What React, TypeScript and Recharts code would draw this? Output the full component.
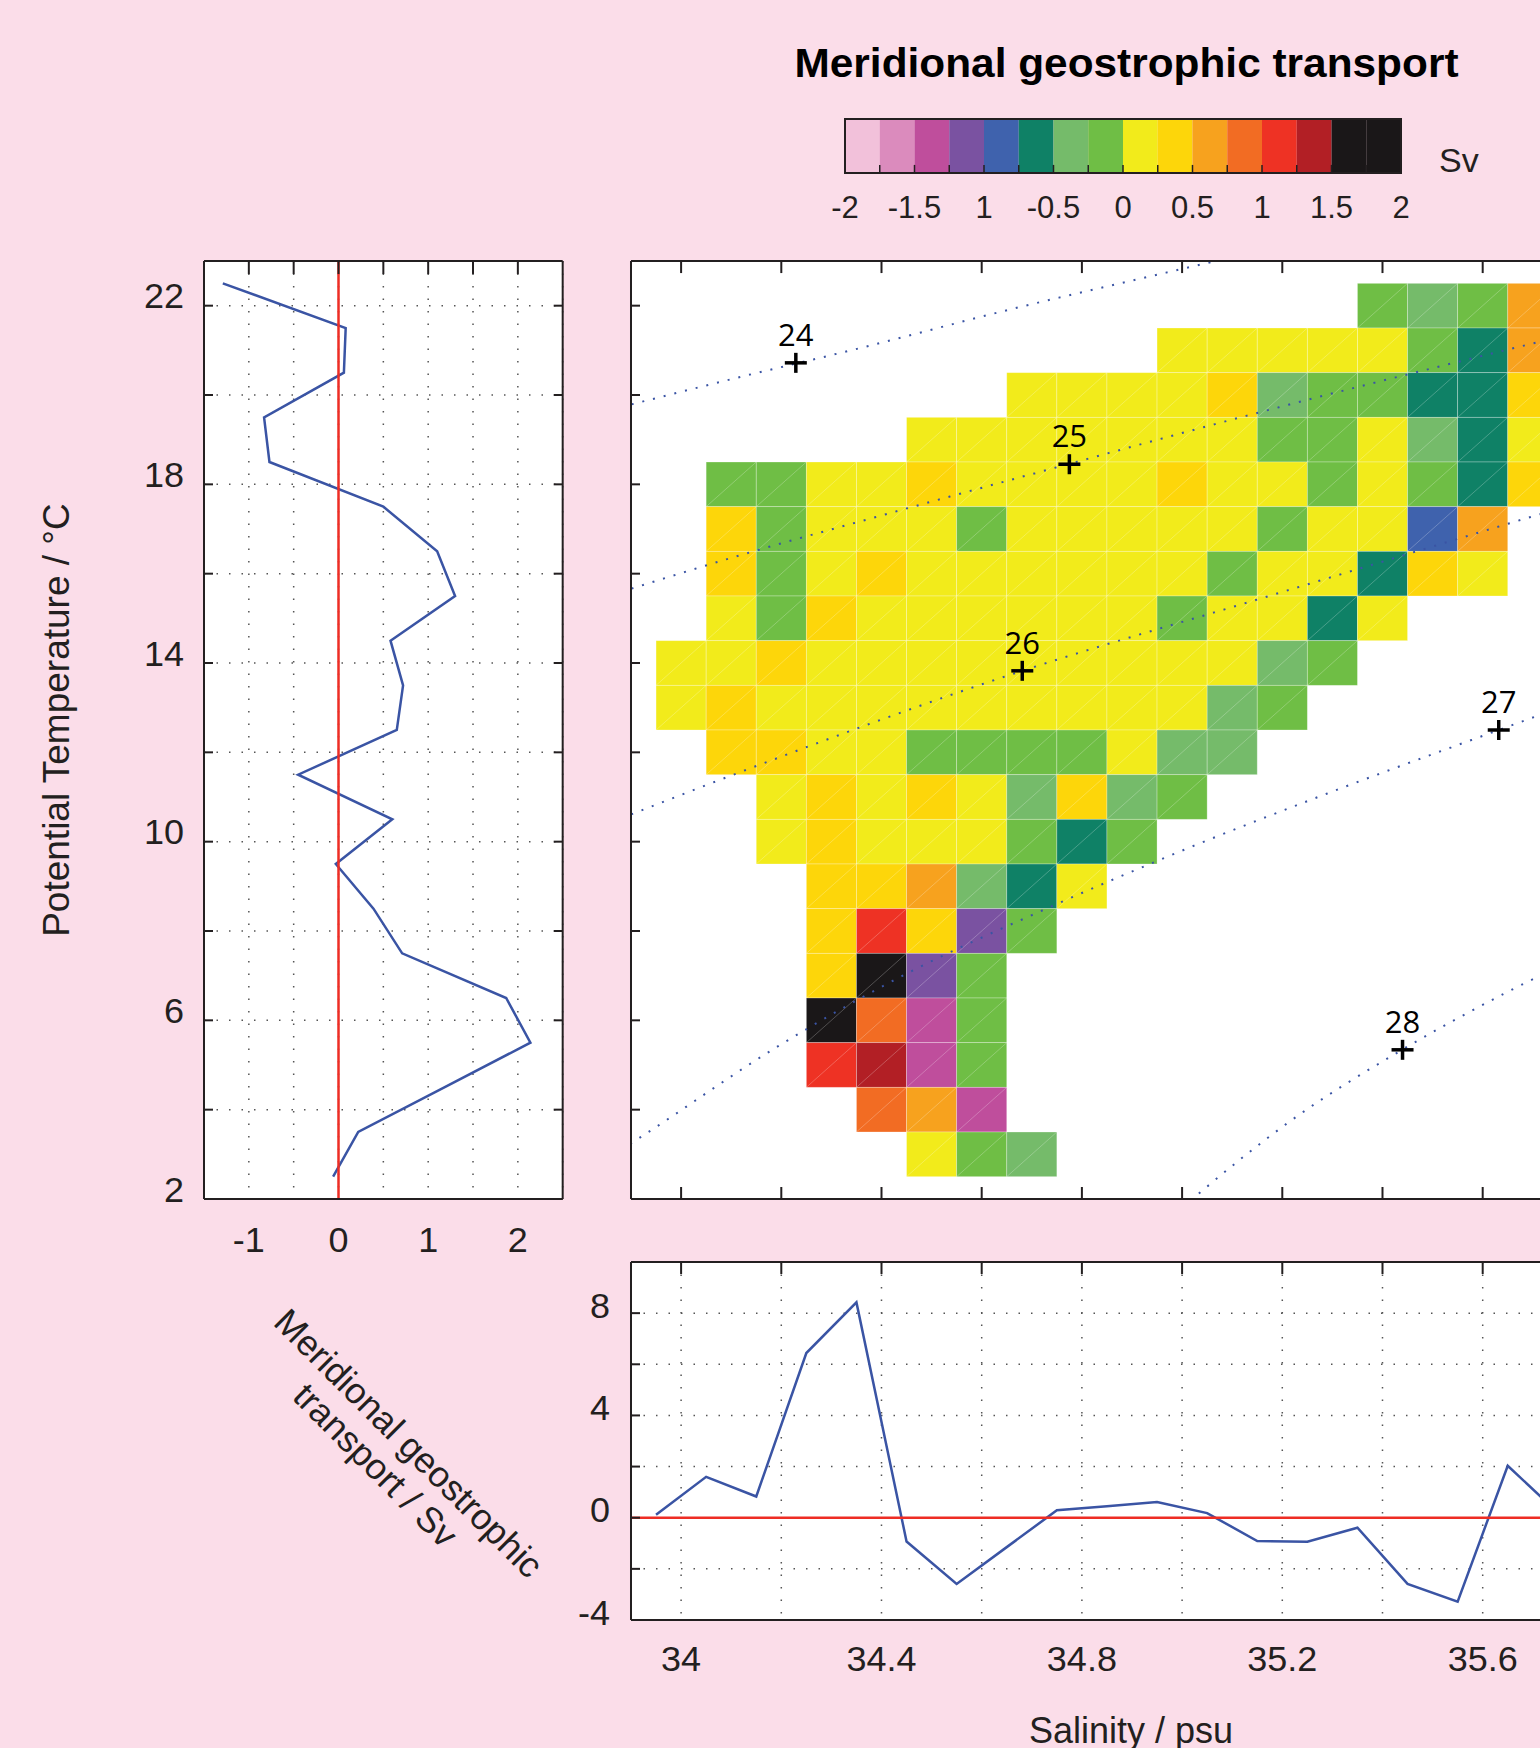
import React from "react";
import {
  ComposedChart,
  Line,
  Scatter,
  XAxis,
  YAxis,
  CartesianGrid,
  ReferenceArea,
  ReferenceLine,
} from "recharts";

const PINK = "#FBDDE9";
const INK = "#231F20";
const BLUE = "#3A54A4";
const RED = "#EE2D24";

// heat map bins (cell centres)
const salinityCenters = [
  34.0, 34.1, 34.2, 34.3, 34.4, 34.5, 34.6, 34.7, 34.8, 34.9, 35.0, 35.1, 35.2,
  35.3, 35.4, 35.5, 35.6, 35.7,
];
const temperatureCenters = [22, 21, 20, 19, 18, 17, 16, 15, 14, 13, 12, 11, 10, 9, 8, 7, 6, 5, 4, 3];

const _ = null;
// transport per cell in Sv, one row per temperature bin
const transportRows: (number | null)[][] = [
  [_, _, _, _, _, _, _, _, _, _, _, _, _, _, -0.1, -0.35, -0.1, 0.6],
  [_, _, _, _, _, _, _, _, _, _, 0.1, 0.1, 0.1, 0.1, 0.1, -0.1, -0.6, 0.6],
  [_, _, _, _, _, _, _, 0.1, 0.1, 0.1, 0.1, 0.4, -0.35, -0.1, -0.1, -0.6, -0.6, 0.4],
  [_, _, _, _, _, 0.1, 0.1, 0.1, 0.1, 0.1, 0.1, 0.1, -0.1, -0.1, 0.1, -0.35, -0.6, 0.1],
  [_, -0.1, -0.1, 0.1, 0.1, 0.4, 0.1, 0.1, 0.1, 0.1, 0.4, 0.1, 0.1, -0.1, 0.1, -0.1, -0.6, 0.4],
  [_, 0.4, -0.1, 0.1, 0.1, 0.1, -0.1, 0.1, 0.1, 0.1, 0.1, 0.1, -0.1, 0.1, 0.1, -0.85, 0.6, _],
  [_, 0.4, -0.1, 0.1, 0.4, 0.1, 0.1, 0.1, 0.1, 0.1, 0.1, -0.1, 0.1, 0.1, -0.6, 0.4, 0.1, _],
  [_, 0.1, -0.1, 0.4, 0.1, 0.1, 0.1, 0.1, 0.1, 0.1, -0.1, 0.1, 0.1, -0.6, 0.1, _, _, _],
  [0.1, 0.1, 0.4, 0.1, 0.1, 0.1, 0.1, 0.1, 0.1, 0.1, 0.1, 0.1, -0.35, -0.1, _, _, _, _],
  [0.1, 0.4, 0.1, 0.1, 0.1, 0.1, 0.1, 0.1, 0.1, 0.1, 0.1, -0.35, -0.1, _, _, _, _, _],
  [_, 0.4, 0.4, 0.1, 0.1, -0.1, -0.1, -0.1, -0.1, 0.1, -0.35, -0.35, _, _, _, _, _, _],
  [_, _, 0.1, 0.4, 0.1, 0.4, 0.1, -0.35, 0.4, -0.35, -0.1, _, _, _, _, _, _, _],
  [_, _, 0.1, 0.4, 0.1, 0.1, 0.1, -0.1, -0.6, -0.1, _, _, _, _, _, _, _, _],
  [_, _, _, 0.4, 0.4, 0.6, -0.35, -0.6, 0.1, _, _, _, _, _, _, _, _, _],
  [_, _, _, 0.4, 1.1, 0.4, -1.1, -0.1, _, _, _, _, _, _, _, _, _, _],
  [_, _, _, 0.4, 1.7, -1.1, -0.1, _, _, _, _, _, _, _, _, _, _, _],
  [_, _, _, 1.7, 0.85, -1.4, -0.1, _, _, _, _, _, _, _, _, _, _, _],
  [_, _, _, 1.1, 1.4, -1.4, -0.1, _, _, _, _, _, _, _, _, _, _, _],
  [_, _, _, _, 0.85, 0.6, -1.4, _, _, _, _, _, _, _, _, _, _, _],
  [_, _, _, _, _, 0.1, -0.1, -0.35, _, _, _, _, _, _, _, _, _, _],
];

// colour scale
const colorbarEdges = [-2, -1.75, -1.5, -1.25, -1, -0.75, -0.5, -0.25, 0, 0.25, 0.5, 0.75, 1, 1.25, 1.5, 1.75, 2];
const colorbarColors = [
  "#F2C1DA", "#DB8BBD", "#BF4E9C", "#7A52A1", "#3F62AD", "#0F8166", "#75BB6A", "#6FBE45",
  "#F2EB1B", "#FDD60A", "#F7A21E", "#F26C23", "#EE3224", "#B21F25", "#1A1718", "#1A1718",
];
const colorbarTickValues = [-2, -1.5, -1, -0.5, 0, 0.5, 1, 1.5, 2];
const colorbarTickLabels = ["-2", "-1.5", "1", "-0.5", "0", "0.5", "1", "1.5", "2"];

// left panel: transport integrated over salinity
const profileTemperature = [22.5, 21.5, 20.5, 19.5, 18.5, 17.5, 16.5, 15.5, 14.5, 13.5, 12.5, 11.5, 10.5, 9.5, 8.5, 7.5, 6.5, 5.5, 4.5, 3.5, 2.5];
const profileTransport = [-1.29, 0.08, 0.06, -0.83, -0.77, 0.5, 1.1, 1.3, 0.58, 0.72, 0.65, -0.45, 0.6, -0.03, 0.39, 0.71, 1.87, 2.14, 1.18, 0.22, -0.06];

// bottom panel: transport integrated over temperature
const sectionSalinity = [33.95, 34.05, 34.15, 34.25, 34.35, 34.45, 34.55, 34.65, 34.75, 34.85, 34.95, 35.05, 35.15, 35.25, 35.35, 35.45, 35.55, 35.65, 35.75];
const sectionTransport = [0.12, 1.6, 0.83, 6.44, 8.42, -0.93, -2.59, -1.15, 0.29, 0.45, 0.61, 0.18, -0.91, -0.94, -0.39, -2.59, -3.28, 2.03, 0.2];

// isopycnals (salinity, temperature)
const sigma24 = [[33.88, 19.73], [34.106, 20.37], [34.357, 21.05], [34.662, 21.93], [34.968, 22.74], [35.2, 23.35]];
const sigma25 = [[33.88, 15.59], [34.09, 16.32], [34.396, 17.29], [34.746, 18.37], [35.147, 19.59], [35.702, 21.16], [36.05, 22.1]];
const sigma26 = [[33.88, 10.52], [34.114, 11.54], [34.681, 13.825], [35.147, 15.41], [35.702, 17.29], [36.05, 18.45]];
const sigma27 = [[33.88, 3.1], [33.92, 3.39], [34.192, 5.41], [34.451, 7.05], [34.723, 8.47], [35.024, 9.91], [35.316, 11.19], [35.632, 12.5], [36.05, 14.2]];
const sigma28 = [[35.0, 1.8], [35.027, 2.06], [35.213, 3.72], [35.439, 5.34], [35.645, 6.61], [36.05, 8.65]];

const isoLabels = ["24", "25", "26", "27", "28"];
const isoMarkSalinity = [34.229, 34.775, 34.681, 35.632, 35.44];
const isoMarkTemperature = [20.72, 18.45, 13.825, 12.5, 5.34];

// ticks
const salinityTicks = [34, 34.2, 34.4, 34.6, 34.8, 35, 35.2, 35.4, 35.6, 35.8, 36];
const salinityTickLabels = ["34", "", "34.4", "", "34.8", "", "35.2", "", "35.6", "", ""];
const temperatureTicks = [2, 4, 6, 8, 10, 12, 14, 16, 18, 20, 22];
const temperatureTickLabels = ["2", "", "6", "", "10", "", "14", "", "18", "", "22"];
const profileTicks = [-1.5, -1, -0.5, 0, 0.5, 1, 1.5, 2, 2.5];
const profileTickLabels = ["", "-1", "", "0", "", "1", "", "2", ""];
const sectionTicks = [-4, -2, 0, 2, 4, 6, 8, 10];
const sectionTickLabels = ["-4", "", "0", "", "4", "", "8", ""];

const colorFor = (v: number) => {
  const i = Math.floor((v + 2) / 0.25);
  return colorbarColors[Math.max(0, Math.min(15, i))];
};

const cells = temperatureCenters.flatMap((T, r) =>
  salinityCenters
    .map((s, c) => ({ s, T, v: transportRows[r][c] }))
    .filter((d) => d.v !== null)
);

const isopycnals = [sigma24, sigma25, sigma26, sigma27, sigma28].map((pts) =>
  pts.map(([s, T]) => ({ s, T }))
);
const isoMarks = isoLabels.map((label, i) => ({
  label,
  s: isoMarkSalinity[i],
  T: isoMarkTemperature[i],
}));
const profileData = profileTemperature.map((T, i) => ({ T, v: profileTransport[i] }));
const sectionData = sectionSalinity.map((s, i) => ({ s, v: sectionTransport[i] }));
const colorbarData = colorbarEdges.map((x) => ({ x, y: 0.5 }));

const axisLineStyle = { stroke: INK, strokeWidth: 2 };
const tickLineStyle = { stroke: INK, strokeWidth: 2 };
const tickText = { fontSize: 36, fill: INK };
const NoLabel = () => <g />;

// inward tick marks hanging from the top frame, length given in y data units
const topTicks = (xs: number[], yTop: number, len: number) =>
  xs.map((x) => (
    <ReferenceLine
      key={`tt-${x}`}
      segment={[{ x, y: yTop }, { x, y: yTop - len }]}
      stroke={INK}
      strokeWidth={2}
      ifOverflow="visible"
    />
  ));

const CellShape = (props: any) => {
  const { x, y, width, height, color } = props;
  return (
    <g>
      <rect x={x} y={y} width={width} height={height} fill={color} stroke="rgba(255,255,255,0.35)" strokeWidth={0.8} />
      <line x1={x} y1={y + height} x2={x + width} y2={y} stroke="rgba(255,255,255,0.3)" strokeWidth={0.8} />
    </g>
  );
};

const IsoMark = (props: any) => {
  const { cx, cy, payload } = props;
  return (
    <g>
      <line x1={cx - 11} x2={cx + 11} y1={cy} y2={cy} stroke="#000" strokeWidth={3.5} />
      <line x1={cx} x2={cx} y1={cy - 10} y2={cy + 10} stroke="#000" strokeWidth={3.5} />
      <text x={cx} y={cy - 17} textAnchor="middle" fontSize={31} fontFamily="'Open Sans', sans-serif" fill="#000">
        {payload.label}
      </text>
    </g>
  );
};

function Colorbar() {
  const left = 844.5, top = 119.3, w = 556, h = 54, m = 10, side = 30, axisH = 60;
  return (
    <div style={{ position: "absolute", left: left - side, top: top - m }}>
      <ComposedChart data={colorbarData} width={w + 2 * side} height={h + m + axisH} margin={{ top: m, right: side, bottom: 0, left: side }}>
        {colorbarColors.map((c, i) => (
          <ReferenceArea key={i} x1={colorbarEdges[i]} x2={colorbarEdges[i + 1]} y1={0} y2={1} fill={c} fillOpacity={1} stroke="none" />
        ))}
        {colorbarEdges.slice(1, -1).map((x) => (
          <ReferenceLine key={`cb-${x}`} segment={[{ x, y: 0 }, { x, y: 0.15 }]} stroke={INK} strokeWidth={1.5} />
        ))}
        <ReferenceArea x1={-2} x2={2} y1={0} y2={1} fill="none" fillOpacity={0} stroke={INK} strokeWidth={2} />
        <Line dataKey="y" stroke="none" dot={false} isAnimationActive={false} />
        <YAxis type="number" dataKey="y" domain={[0, 1]} allowDataOverflow hide />
        <XAxis
          type="number"
          dataKey="x"
          domain={[-2, 2]}
          allowDataOverflow
          ticks={colorbarTickValues}
          interval={0}
          tickFormatter={(v: number, i: number) => colorbarTickLabels[i]}
          height={axisH}
          tickLine={false}
          axisLine={false}
          tickSize={0}
          tickMargin={23}
          tick={{ fontSize: 31, fill: INK }}
        />
      </ComposedChart>
    </div>
  );
}

function ProfilePanel() {
  const left = 203.6, right = 562.3, top = 260.5, bottom = 1198.5;
  const yW = 110, xH = 80, m = 10;
  return (
    <div style={{ position: "absolute", left: left - yW, top: top - m }}>
      <ComposedChart width={yW + (right - left) + m} height={m + (bottom - top) + xH} margin={{ top: m - 1, right: m, bottom: 0, left: 0 }}>
        <CartesianGrid stroke="#555" strokeWidth={1.5} strokeDasharray="1.5 11" fill="#fff" fillOpacity={1} />
        <Line data={profileData} dataKey="T" type="linear" stroke={BLUE} strokeWidth={2.5} dot={false} isAnimationActive={false} />
        <ReferenceLine x={0} stroke={RED} strokeWidth={2.5} />
        {topTicks(profileTicks.slice(1, -1), 23, 0.29)}
        <XAxis type="number" dataKey="v" domain={[-1.5, 2.5]} allowDataOverflow ticks={profileTicks} interval={0}
          tickFormatter={(v: number, i: number) => profileTickLabels[i]} height={xH} tickLine={false} tickSize={0}
          tickMargin={27} axisLine={axisLineStyle} tick={tickText} />
        <XAxis xAxisId="bIn" type="number" domain={[-1.5, 2.5]} allowDataOverflow ticks={profileTicks} interval={0}
          mirror height={1} tick={NoLabel} tickSize={12} axisLine={false} tickLine={tickLineStyle} />
        <XAxis xAxisId="top" orientation="top" type="number" domain={[-1.5, 2.5]} allowDataOverflow ticks={profileTicks} interval={0}
          height={1} tick={NoLabel} tickLine={false} axisLine={axisLineStyle} />
        <YAxis type="number" dataKey="T" domain={[2, 23]} allowDataOverflow ticks={temperatureTicks} interval={0}
          tickFormatter={(v: number, i: number) => temperatureTickLabels[i]} width={yW} tickLine={false} tickSize={0}
          tickMargin={20} axisLine={axisLineStyle} tick={{ ...tickText, dy: -10 }} />
        <YAxis yAxisId="lIn" type="number" domain={[2, 23]} allowDataOverflow ticks={temperatureTicks} interval={0}
          mirror width={1} tick={NoLabel} tickSize={9} axisLine={false} tickLine={tickLineStyle} />
        <YAxis yAxisId="right" orientation="right" type="number" domain={[2, 23]} allowDataOverflow ticks={temperatureTicks} interval={0}
          mirror width={1} tick={NoLabel} tickSize={9} axisLine={axisLineStyle} tickLine={tickLineStyle} />
      </ComposedChart>
    </div>
  );
}

function HeatmapPanel() {
  const left = 630.5, top = 260.5, w = 1052.1, h = 938, m = 10;
  return (
    <div style={{ position: "absolute", left: left - m, top: top - m }}>
      <ComposedChart width={w + 2 * m} height={h + 2 * m} margin={{ top: m - 1, right: m, bottom: m, left: m }}>
        <ReferenceArea x1={33.9} x2={36} y1={2} y2={23} fill="#fff" fillOpacity={1} stroke="none" />
        {cells.map((c) => (
          <ReferenceArea
            key={`${c.s}-${c.T}`}
            x1={c.s - 0.05}
            x2={c.s + 0.05}
            y1={c.T - 0.5}
            y2={c.T + 0.5}
            shape={(p: any) => <CellShape {...p} color={colorFor(c.v as number)} />}
          />
        ))}
        {isopycnals.map((pts, i) => (
          <Line key={i} data={pts} dataKey="T" type="monotone" stroke={BLUE} strokeWidth={2}
            strokeDasharray="2 9" dot={false} isAnimationActive={false} />
        ))}
        <Scatter data={isoMarks} shape={IsoMark} isAnimationActive={false} />
        {topTicks(salinityTicks, 23, 0.27)}
        <XAxis type="number" dataKey="s" domain={[33.9, 36]} allowDataOverflow ticks={salinityTicks} interval={0}
          mirror height={1} tick={NoLabel} tickSize={12} axisLine={axisLineStyle} tickLine={tickLineStyle} />
        <XAxis xAxisId="top" orientation="top" type="number" domain={[33.9, 36]} allowDataOverflow ticks={salinityTicks} interval={0}
          height={1} tick={NoLabel} tickLine={false} axisLine={axisLineStyle} />
        <YAxis type="number" dataKey="T" domain={[2, 23]} allowDataOverflow ticks={temperatureTicks} interval={0}
          mirror width={1} tick={NoLabel} tickSize={9} axisLine={axisLineStyle} tickLine={tickLineStyle} />
        <YAxis yAxisId="right" orientation="right" type="number" domain={[2, 23]} allowDataOverflow ticks={temperatureTicks} interval={0}
          mirror width={1} tick={NoLabel} tickSize={9} axisLine={axisLineStyle} tickLine={tickLineStyle} />
      </ComposedChart>
    </div>
  );
}

function SectionPanel() {
  const left = 630.5, top = 1262.3, w = 1052.1, h = 358;
  const yW = 100, xH = 80, m = 10;
  return (
    <div style={{ position: "absolute", left: left - yW, top: top - m }}>
      <ComposedChart width={yW + w + m} height={m + h + xH} margin={{ top: m - 1, right: m, bottom: 0, left: 0 }}>
        <CartesianGrid stroke="#555" strokeWidth={1.5} strokeDasharray="1.5 11" fill="#fff" fillOpacity={1} />
        <Line data={sectionData} dataKey="v" type="linear" stroke={BLUE} strokeWidth={2.5} dot={false} isAnimationActive={false} />
        <ReferenceLine y={0} stroke={RED} strokeWidth={2.5} />
        {topTicks(salinityTicks, 10, 0.47)}
        <XAxis type="number" dataKey="s" domain={[33.9, 36]} allowDataOverflow ticks={salinityTicks} interval={0}
          tickFormatter={(v: number, i: number) => salinityTickLabels[i]} height={xH} tickLine={false} tickSize={0}
          tickMargin={25} axisLine={axisLineStyle} tick={tickText} />
        <XAxis xAxisId="bIn" type="number" domain={[33.9, 36]} allowDataOverflow ticks={salinityTicks} interval={0}
          mirror height={1} tick={NoLabel} tickSize={12} axisLine={false} tickLine={tickLineStyle} />
        <XAxis xAxisId="top" orientation="top" type="number" domain={[33.9, 36]} allowDataOverflow ticks={salinityTicks} interval={0}
          height={1} tick={NoLabel} tickLine={false} axisLine={axisLineStyle} />
        <YAxis type="number" dataKey="v" domain={[-4, 10]} allowDataOverflow ticks={sectionTicks} interval={0}
          tickFormatter={(v: number, i: number) => sectionTickLabels[i]} width={yW} tickLine={false} tickSize={0}
          tickMargin={21} axisLine={axisLineStyle} tick={{ ...tickText, dy: -8 }} />
        <YAxis yAxisId="lIn" type="number" domain={[-4, 10]} allowDataOverflow ticks={sectionTicks} interval={0}
          mirror width={1} tick={NoLabel} tickSize={9} axisLine={false} tickLine={tickLineStyle} />
        <YAxis yAxisId="right" orientation="right" type="number" domain={[-4, 10]} allowDataOverflow ticks={sectionTicks} interval={0}
          mirror width={1} tick={NoLabel} tickSize={9} axisLine={axisLineStyle} tickLine={tickLineStyle} />
      </ComposedChart>
    </div>
  );
}

function Titles() {
  return (
    <svg width={1540} height={1748} style={{ position: "absolute", left: 0, top: 0, pointerEvents: "none" }}>
      <text x={1126.5} y={76.7} textAnchor="middle" fontSize={41} fontWeight="bold" fill="#000" textLength={664} lengthAdjust="spacingAndGlyphs">
        Meridional geostrophic transport
      </text>
      <text x={1439} y={172} fontSize={34} fill={INK}>Sv</text>
      <text x={69} y={720} textAnchor="middle" fontSize={37} fill={INK} transform="rotate(-90 69 720)">
        Potential Temperature / °C
      </text>
      <text x={1131} y={1743} textAnchor="middle" fontSize={36} fill={INK}>Salinity / psu</text>
      <text x={400} y={1452} textAnchor="middle" fontSize={36} fill={INK} transform="rotate(45 400 1452)">
        Meridional geostrophic
      </text>
      <text x={366.7} y={1474} textAnchor="middle" fontSize={36} fill={INK} transform="rotate(45 366.7 1474)">
        transport / Sv
      </text>
    </svg>
  );
}

export default function App() {
  return (
    <div
      style={{
        position: "absolute",
        left: 0,
        top: 0,
        width: 1540,
        height: 1748,
        overflow: "hidden",
        background: PINK,
        fontFamily: "'Liberation Sans', Arial, sans-serif",
      }}
    >
      <Colorbar />
      <ProfilePanel />
      <HeatmapPanel />
      <SectionPanel />
      <Titles />
    </div>
  );
}
